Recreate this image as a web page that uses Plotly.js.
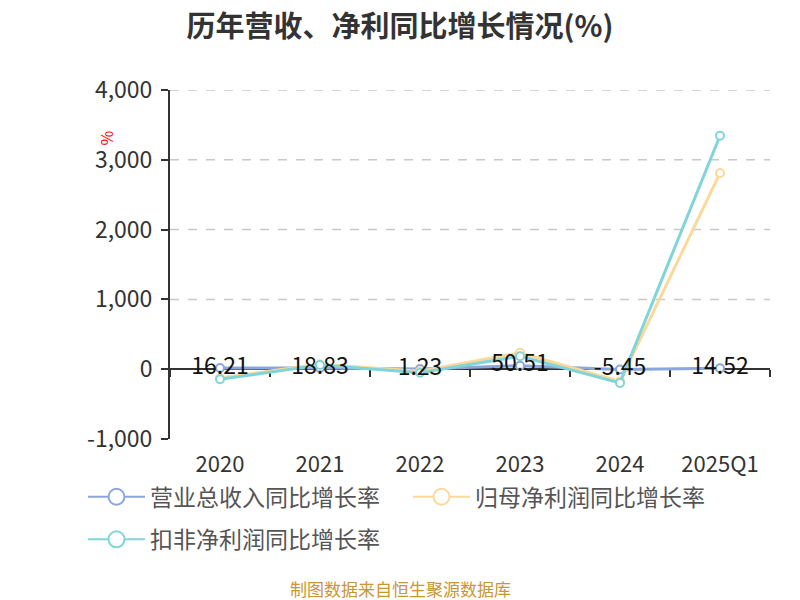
<!DOCTYPE html>
<html>
<head>
<meta charset="utf-8">
<script src="https://cdn.plot.ly/plotly-3.0.1.min.js"></script>
<style>
  html, body { margin: 0; padding: 0; background: #fff; }
  #chart { width: 800px; height: 600px; }
</style>
</head>
<body>
<div id="chart"></div>
<script>
// ---- Data ----
const years        = ['2020', '2021', '2022', '2023', '2024', '2025Q1'];
const revenueYoY   = [16.21, 18.83, 1.23, 50.51, -5.45, 14.52];     // 营业总收入同比增长率
const netProfitYoY = [-125, 70, -30, 235, -175, 2810];               // 归母净利润同比增长率
const deductedYoY  = [-145, 60, -50, 186, -196, 3345];               // 扣非净利润同比增长率
const seriesNames  = ['营业总收入同比增长率', '归母净利润同比增长率', '扣非净利润同比增长率'];
const yTicks       = [-1000, 0, 1000, 2000, 3000, 4000];

const FONT   = '"Noto Sans CJK SC", "Noto Sans", sans-serif';
const COLORS = { blue: '#8aa6dc', yellow: '#fdd89b', cyan: '#80d5d8', text: '#333333' };

// -- one line trace per series (legend handled by separate entries below) --
const lineTrace = (name, values, color) => ({
  type:   'scatter',
  mode:   'lines+markers',
  name,
  x:      years,
  y:      values,
  line:   { color, width: 3 },
  marker: { symbol: 'circle', size: 8, color: '#ffffff', line: { color, width: 2 } },
  showlegend: false,
  hoverinfo: 'skip',
});

// -- legend-only entries, so the legend circle can be larger than the plot markers --
const legendEntry = (name, color, legend) => ({
  type:   'scatter',
  mode:   'lines+markers',
  name,
  legend,
  x:      [null],
  y:      [null],
  line:   { color, width: 2 },
  marker: { symbol: 'circle', size: 16, color: '#ffffff', line: { color, width: 2 } },
  hoverinfo: 'skip',
});

const traces = [
  lineTrace(seriesNames[0], revenueYoY,   COLORS.blue),
  lineTrace(seriesNames[1], netProfitYoY, COLORS.yellow),
  lineTrace(seriesNames[2], deductedYoY,  COLORS.cyan),
  // value labels for revenue series, drawn on top
  {
    type: 'scatter',
    mode: 'text',
    x:    years,
    y:    revenueYoY,
    text: revenueYoY.map(v => v.toFixed(2)),
    textposition: 'middle center',
    textfont: { family: FONT, size: 23, color: '#111' },
    showlegend: false,
    hoverinfo: 'skip',
  },
  // dummy trace on xaxis2 so the zero-line axis is drawn
  {
    type: 'scatter', mode: 'none', x: years, y: revenueYoY.map(() => null),
    xaxis: 'x2', showlegend: false, hoverinfo: 'skip',
  },
  legendEntry(seriesNames[0], COLORS.blue,   'legend'),
  legendEntry(seriesNames[1], COLORS.yellow, 'legend'),
  legendEntry(seriesNames[2], COLORS.cyan,   'legend2'),
];

// dashed gridlines above zero
const gridShapes = yTicks.filter(v => v > 0).map(v => ({
  type: 'line', xref: 'paper', yref: 'y',
  x0: 0, x1: 1, y0: v, y1: v,
  line: { color: '#c8c8c8', width: 1.5, dash: 'dash' },
  layer: 'below',
}));

const zeroFrac = (0 - yTicks[0]) / (yTicks[yTicks.length - 1] - yTicks[0]);

const legendBase = {
  orientation: 'h',
  xanchor: 'left', yanchor: 'top',
  font: { family: FONT, size: 23, color: '#555' },
  itemwidth: 57,
  bgcolor: 'rgba(0,0,0,0)',
};

const layout = {
  width:  800,
  height: 600,
  margin: { l: 170, r: 30, t: 90, b: 161 },
  paper_bgcolor: '#fff',
  plot_bgcolor:  '#fff',
  font: { family: FONT, color: COLORS.text },
  title: {
    text: '<b>历年营收、净利同比增长情况(%)</b>',
    font: { family: FONT, size: 29, color: COLORS.text },
    x: 0.5, xanchor: 'center', y: 0.955, yanchor: 'middle',
  },
  xaxis: {
    type: 'category',
    range: [-0.5, years.length - 0.5],
    showline: false,
    showgrid: false,
    ticks: '',
    tickfont: { family: FONT, size: 22, color: COLORS.text },
    ticklabelstandoff: 10,
    fixedrange: true,
  },
  // x axis line + boundary ticks placed on the zero line
  xaxis2: {
    type: 'category',
    overlaying: 'x',
    range: [-0.5, years.length - 0.5],
    anchor: 'free',
    position: zeroFrac,
    layer: 'below traces',
    showline: true,
    linecolor: COLORS.text,
    linewidth: 2,
    ticks: 'outside',
    tickson: 'boundaries',
    ticklen: 7,
    tickwidth: 2,
    tickcolor: COLORS.text,
    showticklabels: false,
    showgrid: false,
  },
  yaxis: {
    range: [yTicks[0], yTicks[yTicks.length - 1]],
    tickvals: yTicks,
    ticktext: yTicks.map(v => v.toLocaleString('en-US')),
    showgrid: false,
    zeroline: false,
    showline: true,
    linecolor: COLORS.text,
    linewidth: 2,
    ticks: 'outside',
    ticklen: 7,
    tickwidth: 2,
    tickcolor: COLORS.text,
    tickfont: { family: FONT, size: 23, color: COLORS.text },
    ticklabelstandoff: 4,
    fixedrange: true,
  },
  shapes: gridShapes,
  legend:  { ...legendBase, x: -0.145, y: -0.104, entrywidth: 253 },
  legend2: { ...legendBase, x: -0.145, y: -0.226 },
  annotations: [
    {
      text: '%', xref: 'paper', yref: 'paper',
      x: -0.13, y: 0.888, showarrow: false,
      textangle: -90,
      font: { family: FONT, size: 16, color: '#ff0000' },
    },
    {
      text: '制图数据来自恒生聚源数据库', xref: 'paper', yref: 'paper',
      x: (400 - 170) / 600, y: -0.428, xanchor: 'center', yanchor: 'middle', showarrow: false,
      font: { family: FONT, size: 17, color: '#c89632' },
    },
  ],
  showlegend: true,
};

Plotly.newPlot('chart', traces, layout, { staticPlot: true, displayModeBar: false });
</script>
</body>
</html>
